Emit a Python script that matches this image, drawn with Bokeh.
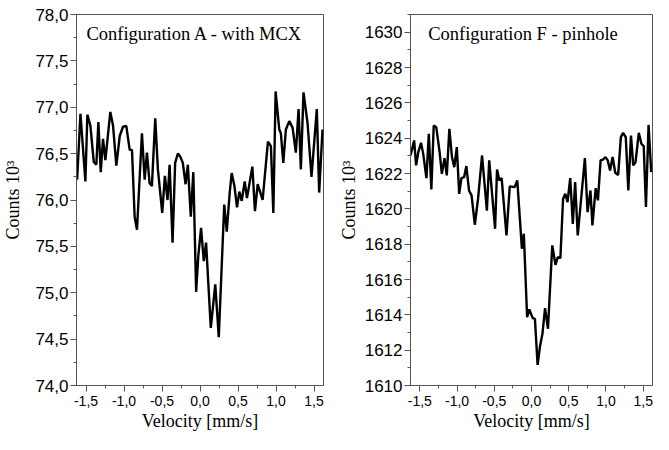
from bokeh.plotting import figure
from bokeh.layouts import row
from bokeh.models import Range1d, FixedTicker, Label
from bokeh.embed import file_html
from bokeh.resources import INLINE

# ---------------- data ----------------
vel_a = [-1.617, -1.573, -1.508, -1.482, -1.442, -1.398, -1.364, -1.337, -1.306, -1.276,
         -1.245, -1.180, -1.144, -1.101, -1.056, -1.013, -0.970, -0.925, -0.895, -0.860,
         -0.829, -0.764, -0.728, -0.698, -0.663, -0.633, -0.589, -0.554, -0.497, -0.462,
         -0.427, -0.400, -0.361, -0.327, -0.291, -0.261, -0.226, -0.190, -0.160, -0.121,
         -0.088, -0.051, -0.022, 0.014, 0.050, 0.080, 0.142, 0.201, 0.247, 0.319,
         0.352, 0.391, 0.417, 0.453, 0.487, 0.518, 0.549, 0.588, 0.618, 0.689,
         0.723, 0.759, 0.824, 0.894, 0.933, 0.965, 0.995, 1.043, 1.064, 1.096,
         1.130, 1.175, 1.218, 1.261, 1.297, 1.327, 1.362, 1.415, 1.467, 1.537,
         1.568, 1.612]
counts_a = [76.22, 76.93, 76.20, 76.92, 76.80, 76.41, 76.38, 76.84, 76.30, 76.66,
            76.43, 76.95, 76.80, 76.37, 76.69, 76.79, 76.80, 76.54, 76.54, 75.82,
            75.68, 76.72, 76.22, 76.51, 76.18, 76.15, 76.88, 76.33, 75.86, 76.26,
            76.00, 76.38, 75.54, 76.40, 76.50, 76.47, 76.40, 76.17, 76.38, 75.82,
            76.30, 75.01, 75.40, 75.70, 75.34, 75.54, 74.62, 75.09, 74.52, 75.95,
            75.66, 76.08, 76.29, 76.15, 75.92, 76.09, 75.99, 76.20, 76.02, 76.36,
            75.88, 76.17, 76.00, 76.63, 76.58, 75.86, 77.17, 76.76, 76.72, 76.40,
            76.76, 76.85, 76.78, 76.51, 76.98, 76.33, 77.16, 76.83, 76.25, 76.98,
            76.08, 76.76]

vel_f = [-1.625, -1.576, -1.550, -1.520, -1.484, -1.454, -1.411, -1.379, -1.345, -1.313,
         -1.279, -1.234, -1.204, -1.168, -1.138, -1.103, -1.068, -1.037, -1.003, -0.971,
         -0.941, -0.905, -0.875, -0.839, -0.805, -0.761, -0.717, -0.664, -0.599, -0.568,
         -0.489, -0.463, -0.432, -0.401, -0.336, -0.292, -0.226, -0.191, -0.129, -0.103,
         -0.059, -0.029, 0.016, 0.046, 0.082, 0.116, 0.147, 0.182, 0.221, 0.279,
         0.322, 0.353, 0.388, 0.424, 0.454, 0.484, 0.520, 0.555, 0.586, 0.621,
         0.717, 0.753, 0.792, 0.818, 0.862, 0.892, 0.928, 0.958, 0.993, 1.024,
         1.055, 1.089, 1.125, 1.164, 1.200, 1.230, 1.266, 1.300, 1.336, 1.366,
         1.397, 1.441, 1.476, 1.507, 1.537, 1.572, 1.608]
counts_f = [1623.02, 1623.87, 1622.46, 1623.21, 1623.74, 1623.11, 1621.74, 1624.25, 1621.10, 1624.72,
            1624.62, 1623.21, 1621.98, 1622.87, 1621.89, 1624.53, 1622.93, 1622.36, 1623.49, 1620.85,
            1621.74, 1621.79, 1622.42, 1621.04, 1620.76, 1619.10, 1620.60, 1623.02, 1619.90, 1622.74,
            1618.87, 1622.23, 1621.61, 1621.74, 1618.50, 1621.27, 1621.23, 1621.61, 1617.74, 1618.59,
            1613.87, 1614.31, 1613.81, 1613.77, 1611.17, 1612.27, 1612.93, 1614.38, 1613.21, 1617.93,
            1616.83, 1617.27, 1617.21, 1620.57, 1620.85, 1620.38, 1621.74, 1619.15, 1621.51, 1618.49,
            1622.87, 1619.81, 1621.04, 1619.06, 1621.17, 1620.48, 1622.74, 1622.79, 1622.93, 1622.74,
            1622.17, 1622.93, 1622.04, 1621.92, 1624.06, 1624.30, 1624.06, 1621.04, 1624.15, 1622.46,
            1622.64, 1624.30, 1623.68, 1623.55, 1620.10, 1624.75, 1622.08]

x_ticks = [-1.5, -1.0, -0.5, 0.0, 0.5, 1.0, 1.5]
x_tick_labels = ["-1,5", "-1,0", "-0,5", "0,0", "0,5", "1,0", "1,5"]
x_minor = [-1.5, -1.25, -1.0, -0.75, -0.5, -0.25, 0.0, 0.25, 0.5, 0.75, 1.0, 1.25, 1.5]

ya_ticks = [74.0, 74.5, 75.0, 75.5, 76.0, 76.5, 77.0, 77.5, 78.0]
ya_tick_labels = ["74,0", "74,5", "75,0", "75,5", "76,0", "76,5", "77,0", "77,5", "78,0"]
ya_minor = [74.0, 74.25, 74.5, 74.75, 75.0, 75.25, 75.5, 75.75, 76.0, 76.25,
            76.5, 76.75, 77.0, 77.25, 77.5, 77.75, 78.0]

yf_ticks = [1610, 1612, 1614, 1616, 1618, 1620, 1622, 1624, 1626, 1628, 1630]
yf_tick_labels = ["1610", "1612", "1614", "1616", "1618", "1620", "1622", "1624", "1626", "1628", "1630"]
yf_minor = list(range(1610, 1632))

title_a = "Configuration A - with MCX"
title_f = "Configuration F - pinhole"
x_label = "Velocity [mm/s]"
y_label = "Counts 10\u00b3"

AXIS_COL = "#555555"


def style(p, yt, ytl, ym, ylabel_standoff):
    p.xgrid.visible = False
    p.ygrid.visible = False
    p.outline_line_color = AXIS_COL
    p.outline_line_width = 1
    p.background_fill_color = "white"
    p.border_fill_color = "white"
    p.xaxis.ticker = FixedTicker(ticks=x_ticks, minor_ticks=x_minor)
    p.xaxis.major_label_overrides = dict(zip(x_ticks, x_tick_labels))
    p.yaxis.ticker = FixedTicker(ticks=yt, minor_ticks=ym)
    p.yaxis.major_label_overrides = dict(zip(yt, ytl))
    for ax in (p.xaxis[0], p.yaxis[0]):
        ax.axis_line_color = AXIS_COL
        ax.major_tick_line_color = AXIS_COL
        ax.minor_tick_line_color = AXIS_COL
        ax.major_tick_in = 0
        ax.major_tick_out = 6
        ax.minor_tick_in = 0
        ax.minor_tick_out = 3
        ax.major_label_text_font = "Liberation Sans"
        ax.major_label_text_color = "black"
        ax.axis_label_text_font = "Liberation Serif"
        ax.axis_label_text_font_style = "normal"
        ax.axis_label_text_color = "black"
    p.xaxis.major_label_text_font_size = "14px"
    p.yaxis.major_label_text_font_size = "17px"
    p.xaxis.axis_label_text_font_size = "18px"
    p.yaxis.axis_label_text_font_size = "18px"
    p.xaxis.major_label_standoff = 4
    p.yaxis.major_label_standoff = 2
    p.xaxis.axis_label_standoff = 2
    p.yaxis.axis_label_standoff = ylabel_standoff


pa = figure(width=335, height=434, output_backend="svg", toolbar_location=None,
            x_range=Range1d(-1.625, 1.625), y_range=Range1d(74.0, 78.0),
            min_border_left=75, min_border_right=12, min_border_top=14, min_border_bottom=49,
            x_axis_label=x_label, y_axis_label=y_label)
style(pa, ya_ticks, ya_tick_labels, ya_minor, 9)
pa.line(vel_a, counts_a, line_color="black", line_width=2.4)
pa.add_layout(Label(x=-1.495, y=77.787, text=title_a, text_font="Liberation Serif",
                    text_font_size="18.5px", text_baseline="alphabetic", text_align="left",
                    text_color="black"))

pf = figure(width=318, height=434, output_backend="svg", toolbar_location=None,
            x_range=Range1d(-1.625, 1.625), y_range=Range1d(1610.0, 1631.0),
            min_border_left=71, min_border_right=1, min_border_top=14, min_border_bottom=49,
            x_axis_label=x_label, y_axis_label=y_label)
style(pf, yf_ticks, yf_tick_labels, yf_minor, 3)
pf.line(vel_f, counts_f, line_color="black", line_width=2.4)
pf.add_layout(Label(x=-1.388, y=1629.885, text=title_f, text_font="Liberation Serif",
                    text_font_size="18.5px", text_baseline="alphabetic", text_align="left",
                    text_color="black"))

layout = row(pa, pf)
open("out.html", "w").write(file_html(layout, INLINE))
